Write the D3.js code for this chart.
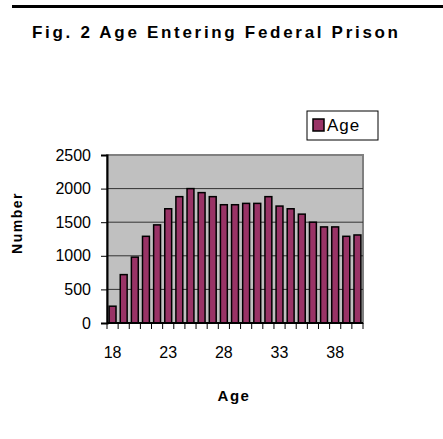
<!DOCTYPE html>
<html>
<head>
<meta charset="utf-8">
<script src="https://cdn.jsdelivr.net/npm/d3@7"></script>
<style>
  body { margin: 0; background: #fff; }
  svg { display: block; font-family: Arial, "Liberation Sans", sans-serif; }
</style>
</head>
<body>
<div id="chart"></div>
<script>
// ages on the x axis, counts per age
const ages = [18, 19, 20, 21, 22, 23, 24, 25, 26, 27, 28, 29, 30, 31, 32, 33, 34, 35, 36, 37, 38, 39, 40];
const counts = [250, 720, 980, 1290, 1460, 1700, 1880, 2000, 1940, 1880, 1760, 1760, 1780, 1780, 1880, 1740, 1700, 1620, 1500, 1430, 1430, 1290, 1310];
const yTicks = [0, 500, 1000, 1500, 2000, 2500];
const xLabels = [18, 23, 28, 33, 38];
const seriesName = "Age";

const width = 443, height = 439;
const plot = {left: 107, right: 363, top: 155, bottom: 323};

const svg = d3.select("#chart").append("svg")
    .attr("width", width)
    .attr("height", height);

// rule across the top
svg.append("rect")
    .attr("x", 12).attr("y", 5)
    .attr("width", width - 12).attr("height", 3)
    .attr("fill", "#000");

// title
svg.append("text")
    .attr("x", 32).attr("y", 38)
    .attr("font-size", 17).attr("font-weight", "bold")
    .attr("textLength", 366).attr("lengthAdjust", "spacing")
    .text("Fig. 2 Age Entering Federal Prison");

const x = d3.scaleBand()
    .domain(ages)
    .range([plot.left, plot.right])
    .paddingInner(0.38)
    .paddingOuter(0.19);

const y = d3.scaleLinear()
    .domain([0, 2500])
    .range([plot.bottom, plot.top]);

// plot background
svg.append("rect")
    .attr("x", plot.left).attr("y", plot.top)
    .attr("width", plot.right - plot.left)
    .attr("height", plot.bottom - plot.top)
    .attr("fill", "#c0c0c0")
    .attr("stroke", "#808080").attr("stroke-width", 2);

// gridlines
svg.append("g")
    .selectAll("line")
    .data(yTicks.filter(d => d > 0 && d < 2500))
    .join("line")
    .attr("x1", plot.left).attr("x2", plot.right)
    .attr("y1", d => y(d)).attr("y2", d => y(d))
    .attr("stroke", "#333").attr("stroke-width", 1);

// bars
svg.append("g")
    .selectAll("rect")
    .data(ages)
    .join("rect")
    .attr("x", d => x(d))
    .attr("width", x.bandwidth())
    .attr("y", (d, i) => y(counts[i]))
    .attr("height", (d, i) => y(0) - y(counts[i]))
    .attr("fill", "#993366")
    .attr("stroke", "#000").attr("stroke-width", 1.5);

// y axis
const yAxis = svg.append("g")
    .attr("transform", `translate(${plot.left},0)`)
    .call(d3.axisLeft(y).tickValues(yTicks).tickFormat(d3.format("d")).tickSize(6).tickPadding(10));
yAxis.select(".domain").attr("stroke", "#000").attr("stroke-width", 2);
yAxis.selectAll(".tick line").attr("stroke", "#000");
yAxis.selectAll(".tick text")
    .attr("font-size", 16).attr("font-family", "Arial, 'Liberation Sans', sans-serif")
    .attr("fill", "#000");

// x axis: ticks on category boundaries
const step = x.step();
const boundaries = d3.range(ages.length + 1).map(i => plot.left + i * step);
const xAxis = svg.append("g");
xAxis.append("line")
    .attr("x1", plot.left).attr("x2", plot.right)
    .attr("y1", plot.bottom).attr("y2", plot.bottom)
    .attr("stroke", "#000").attr("stroke-width", 2);
xAxis.selectAll("line.tick")
    .data(boundaries)
    .join("line")
    .attr("class", "tick")
    .attr("x1", d => d).attr("x2", d => d)
    .attr("y1", plot.bottom).attr("y2", plot.bottom + 6)
    .attr("stroke", "#000");
xAxis.selectAll("text")
    .data(xLabels)
    .join("text")
    .attr("x", d => x(d) + x.bandwidth() / 2)
    .attr("y", 358)
    .attr("text-anchor", "middle")
    .attr("font-size", 16)
    .text(d => d);

// axis titles
svg.append("text")
    .attr("x", 234).attr("y", 401)
    .attr("text-anchor", "middle")
    .attr("font-size", 15).attr("font-weight", "bold")
    .attr("letter-spacing", 1.5)
    .text("Age");

svg.append("text")
    .attr("transform", "translate(22,223) rotate(-90)")
    .attr("text-anchor", "middle")
    .attr("font-size", 14).attr("font-weight", "bold")
    .attr("letter-spacing", 1.5)
    .text("Number");

// legend
const legend = svg.append("g");
legend.append("rect")
    .attr("x", 307).attr("y", 111)
    .attr("width", 71).attr("height", 29)
    .attr("fill", "#fff")
    .attr("stroke", "#000").attr("stroke-width", 1);
legend.append("rect")
    .attr("x", 313).attr("y", 119)
    .attr("width", 11).attr("height", 12)
    .attr("fill", "#993366")
    .attr("stroke", "#000").attr("stroke-width", 1.5);
legend.append("text")
    .attr("x", 327).attr("y", 131)
    .attr("font-size", 17)
    .attr("letter-spacing", 1)
    .text(seriesName);
</script>
</body>
</html>
